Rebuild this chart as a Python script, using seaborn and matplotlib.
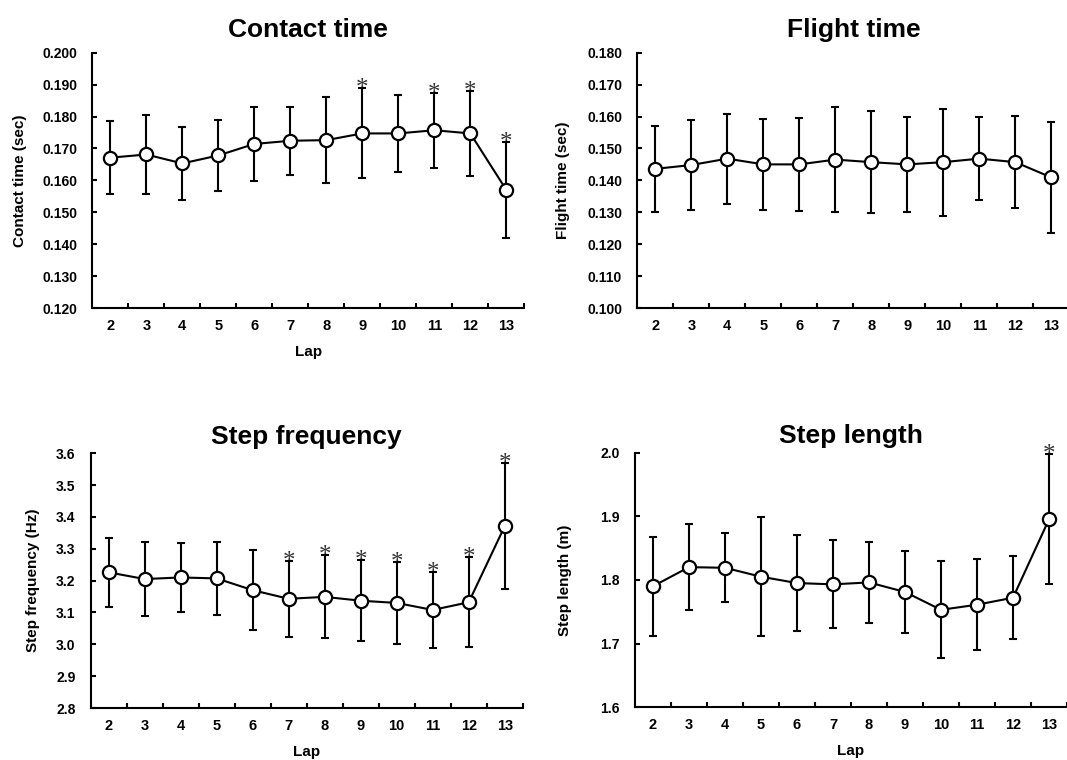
import numpy as np
import pandas as pd
import seaborn as sns
import matplotlib.pyplot as plt
from matplotlib.ticker import FormatStrFormatter, FixedLocator

laps = [2, 3, 4, 5, 6, 7, 8, 9, 10, 11, 12, 13]

contact_mean = [0.1671, 0.1681, 0.1653, 0.1678, 0.1714, 0.1724, 0.1726, 0.1747, 0.1747, 0.1757, 0.1747, 0.1570]
contact_sd = [0.0115, 0.0124, 0.0114, 0.0110, 0.0117, 0.0106, 0.0135, 0.0141, 0.0120, 0.0118, 0.0134, 0.0151]
contact_sig = [9, 11, 12, 13]

flight_mean = [0.1436, 0.1448, 0.1468, 0.1450, 0.1450, 0.1465, 0.1457, 0.1450, 0.1457, 0.1468, 0.1457, 0.1409]
flight_sd = [0.0135, 0.0140, 0.0141, 0.0142, 0.0146, 0.0164, 0.0160, 0.0149, 0.0168, 0.0130, 0.0144, 0.0173]
flight_sig = []

freq_mean = [3.226, 3.205, 3.210, 3.207, 3.170, 3.143, 3.149, 3.137, 3.130, 3.108, 3.132, 3.371]
freq_sd = [0.109, 0.117, 0.107, 0.115, 0.126, 0.120, 0.130, 0.128, 0.129, 0.120, 0.141, 0.197]
freq_sig = [7, 8, 9, 10, 11, 12, 13]

length_mean = [1.790, 1.820, 1.819, 1.805, 1.795, 1.793, 1.796, 1.781, 1.753, 1.761, 1.772, 1.895]
length_sd = [0.078, 0.067, 0.054, 0.093, 0.076, 0.069, 0.063, 0.065, 0.076, 0.071, 0.065, 0.102]
length_sig = [13]

sns.set_style("ticks")
plt.rcParams['font.family'] = ['Liberation Sans', 'DejaVu Sans']
plt.rcParams['font.weight'] = 'bold'
plt.rcParams['axes.labelweight'] = 'bold'
plt.rcParams['axes.titleweight'] = 'bold'
plt.rcParams['text.color'] = 'black'
plt.rcParams['axes.labelcolor'] = 'black'
plt.rcParams['xtick.color'] = 'black'
plt.rcParams['ytick.color'] = 'black'


def draw_panel(ax, mean, sd, sig, title, ylabel, ylim, ystep, fmt,
               ylab_x, title_pad, xlabel=True):
    df = pd.DataFrame({"lap": laps, "mean": mean, "sd": sd})

    ax.errorbar(df["lap"], df["mean"], yerr=df["sd"], fmt="none",
                ecolor="black", elinewidth=1.5, capsize=3, capthick=1.5,
                zorder=2)
    sns.lineplot(data=df, x="lap", y="mean", ax=ax, color="black",
                 linewidth=1.5, marker="o", markersize=9.5,
                 markerfacecolor="white", markeredgecolor="black",
                 markeredgewidth=1.6, errorbar=None, zorder=3)

    # significance marks above the upper error bar
    for lap in sig:
        i = laps.index(lap)
        ax.annotate("*", (lap, mean[i] + sd[i]), xytext=(0, -5),
                    textcoords="offset points", ha="center", va="baseline",
                    fontsize=18, fontweight="normal", color="#333333",
                    family="Liberation Serif", annotation_clip=False)

    ax.set_xlim(1.5, 13.5)
    ax.set_ylim(*ylim)
    ax.set_xticks(laps)
    ax.xaxis.set_minor_locator(FixedLocator(np.arange(2.5, 14, 1.0)))
    ax.set_yticks(np.arange(ylim[0], ylim[1] + ystep / 2, ystep))
    ax.yaxis.set_major_formatter(FormatStrFormatter(fmt))

    ax.tick_params(axis="x", which="major", length=0, pad=8, labelsize=10.5)
    ax.tick_params(axis="x", which="minor", direction="in", length=3.5,
                   width=1.5, color="black")
    ax.tick_params(axis="y", which="major", direction="in", length=3.5,
                   width=1.5, pad=11, labelsize=10, color="black")
    for lab in ax.get_xticklabels() + ax.get_yticklabels():
        lab.set_fontweight("bold")

    sns.despine(ax=ax)
    for s in ["left", "bottom"]:
        ax.spines[s].set_linewidth(1.5)
        ax.spines[s].set_color("black")

    ax.set_title(title, fontsize=19, fontweight="bold", pad=title_pad,
                 color="black")
    ax.set_ylabel(ylabel, fontsize=11, fontweight="bold")
    ax.yaxis.set_label_coords(ylab_x, 0.5)
    if xlabel:
        ax.set_xlabel("Lap", fontsize=11, fontweight="bold")
        ax.xaxis.set_label_coords(0.5, -0.145)
    else:
        ax.set_xlabel("")


fig = plt.figure(figsize=(10.67, 7.6), dpi=100)
ax1 = fig.add_axes([0.0865, 0.5947, 0.4049, 0.336])
ax2 = fig.add_axes([0.5973, 0.5947, 0.4049, 0.336])
ax3 = fig.add_axes([0.0850, 0.0684, 0.4049, 0.3352])
ax4 = fig.add_axes([0.5951, 0.0694, 0.4049, 0.3352])

draw_panel(ax1, contact_mean, contact_sd, contact_sig, "Contact time",
           "Contact time (sec)", (0.12, 0.20), 0.01, "%.3f", -0.15, 11)
draw_panel(ax2, flight_mean, flight_sd, flight_sig, "Flight time",
           "Flight time (sec)", (0.10, 0.18), 0.01, "%.3f", -0.156, 11,
           xlabel=False)
draw_panel(ax3, freq_mean, freq_sd, freq_sig, "Step frequency",
           "Step frequency (Hz)", (2.8, 3.6), 0.1, "%.1f", -0.117, 6.5)
draw_panel(ax4, length_mean, length_sd, length_sig, "Step length",
           "Step length (m)", (1.6, 2.0), 0.1, "%.1f", -0.145, 6.5)

fig.savefig("out.png", dpi=100)
plt.close(fig)
